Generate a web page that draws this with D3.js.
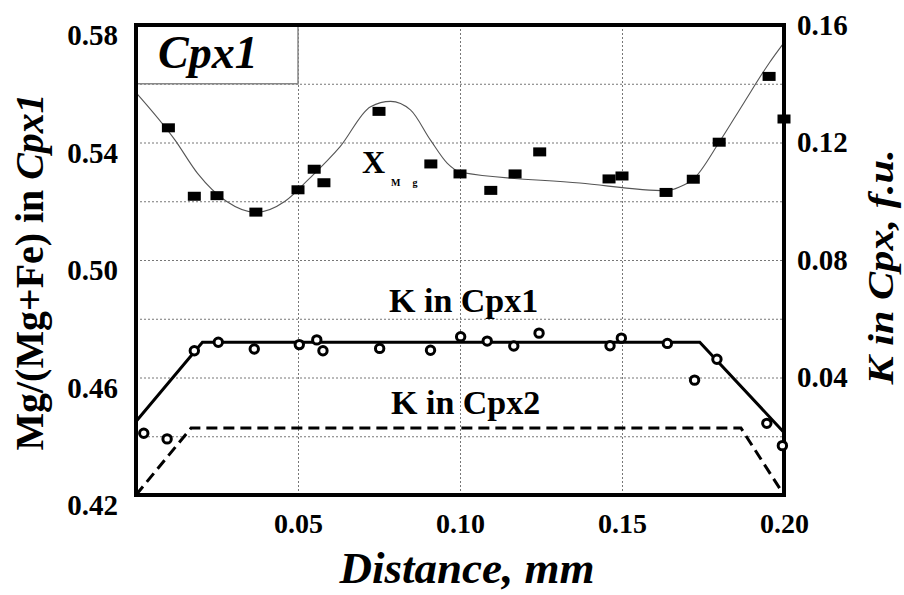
<!DOCTYPE html>
<html>
<head>
<meta charset="utf-8">
<script src="https://cdn.jsdelivr.net/npm/d3@7"></script>
<style>
  body { margin: 0; background: #fff; }
  .grid line { stroke: #777; stroke-width: 1; stroke-dasharray: 2,2; }
  .grid path { display: none; }
  .tickAxis path { display: none; }
</style>
</head>
<body>
<script>
// Mg# (filled squares, left axis)
var distMg = [0.010, 0.018, 0.025, 0.037, 0.050, 0.055, 0.058, 0.075, 0.091, 0.100,
              0.1095, 0.117, 0.1246, 0.146, 0.150, 0.1636, 0.172, 0.180, 0.1954, 0.200];
var xMg = [0.545, 0.5217, 0.5219, 0.5163, 0.5239, 0.5309, 0.5263, 0.5506, 0.5327, 0.5293,
           0.5237, 0.5293, 0.5368, 0.5276, 0.5286, 0.5230, 0.5275, 0.5401, 0.5625, 0.548];

// fitted curve through the Mg# profile
var curveDist = [0.0, 0.012, 0.019, 0.028, 0.037, 0.046, 0.053, 0.063, 0.0724, 0.0786, 0.0847,
                 0.0909, 0.0961, 0.1002, 0.137, 0.1638, 0.168, 0.172, 0.180, 0.1875, 0.1954, 0.200];
var curveMg = [0.557, 0.5409, 0.5295, 0.5199, 0.5162, 0.520, 0.5272, 0.5386, 0.5522, 0.554, 0.5511,
               0.5408, 0.5329, 0.5299, 0.5262, 0.5236, 0.525, 0.5275, 0.5401, 0.5533, 0.567, 0.574];

// K in Cpx (open circles, right axis)
var distK = [0.0024, 0.0096, 0.018, 0.0254, 0.0365, 0.0504, 0.0558, 0.0577, 0.0752, 0.0909, 0.1002,
             0.1084, 0.1166, 0.1244, 0.1463, 0.1498, 0.164, 0.1724, 0.1793, 0.1947, 0.1995];
var kCpx = [0.0210, 0.0191, 0.0491, 0.0520, 0.0497, 0.0512, 0.0528, 0.0491, 0.0499, 0.0493, 0.0539,
            0.0524, 0.0507, 0.0551, 0.0508, 0.0534, 0.0516, 0.0391, 0.0462, 0.0244, 0.0168];

// model profiles
var k1Dist = [0.0, 0.0205, 0.174, 0.200];
var k1 = [0.025, 0.052, 0.052, 0.0213];
var k2Dist = [0.0, 0.017, 0.1867, 0.200];
var k2 = [0.0, 0.0228, 0.0228, 0.0];

// ticks
var xTicks = [0.05, 0.10, 0.15, 0.20];
var yLeftTicks = [0.42, 0.46, 0.50, 0.54, 0.58];
var yRightTicks = [0.04, 0.08, 0.12, 0.16];
var xGrid = [0.05, 0.10, 0.15];
var yGrid = [0.44, 0.46, 0.48, 0.50, 0.52, 0.54, 0.56];

var serif = "'Liberation Serif', 'Times New Roman', Times, serif";

var margin = {top: 25, right: 120, bottom: 100, left: 136},
    width = 904 - margin.left - margin.right,
    height = 595 - margin.top - margin.bottom;

var svg = d3.select("body")
  .append("svg")
    .attr("width", 904)
    .attr("height", 595)
  .append("g")
    .attr("transform", "translate(" + margin.left + "," + margin.top + ")");

var x = d3.scaleLinear().domain([0, 0.20]).range([0, width]);
var yL = d3.scaleLinear().domain([0.42, 0.58]).range([height, 0]);
var yR = d3.scaleLinear().domain([0, 0.16]).range([height, 0]);

// small helper so every label gets the same serif bold look
function label(sel, size, italic) {
  return sel
    .attr("font-family", serif)
    .attr("font-weight", "bold")
    .attr("font-style", italic ? "italic" : "normal")
    .attr("font-size", size)
    .attr("fill", "#000");
}

// grid
svg.append("g")
  .attr("class", "grid")
  .call(d3.axisLeft(yL).tickValues(yGrid).tickSize(-width).tickFormat(""));
svg.append("g")
  .attr("class", "grid")
  .attr("transform", "translate(0," + height + ")")
  .call(d3.axisBottom(x).tickValues(xGrid).tickSize(-height).tickFormat(""));

// sample label box
svg.append("rect")
  .attr("x", 0)
  .attr("y", 0)
  .attr("width", x(0.05))
  .attr("height", yL(0.56))
  .attr("fill", "#fff")
  .attr("stroke", "#888")
  .attr("stroke-width", 1.5);
label(svg.append("text"), 46, true)
  .attr("x", 22)
  .attr("y", 43)
  .text("Cpx1");

// Mg# curve
svg.append("path")
  .datum(curveDist)
  .attr("fill", "none")
  .attr("stroke", "#555")
  .attr("stroke-width", 1.1)
  .attr("d", d3.line()
    .x(function(d) { return x(d); })
    .y(function(d, i) { return yL(curveMg[i]); })
    .curve(d3.curveMonotoneX));

// K model lines
svg.append("path")
  .datum(k1Dist)
  .attr("fill", "none")
  .attr("stroke", "#000")
  .attr("stroke-width", 3)
  .attr("d", d3.line()
    .x(function(d) { return x(d); })
    .y(function(d, i) { return yR(k1[i]); }));
svg.append("path")
  .datum(k2Dist)
  .attr("fill", "none")
  .attr("stroke", "#000")
  .attr("stroke-width", 3)
  .attr("stroke-dasharray", "11,6")
  .attr("d", d3.line()
    .x(function(d) { return x(d); })
    .y(function(d, i) { return yR(k2[i]); }));

// frame
svg.append("rect")
  .attr("x", 0)
  .attr("y", 0)
  .attr("width", width)
  .attr("height", height)
  .attr("fill", "none")
  .attr("stroke", "#000")
  .attr("stroke-width", 4);

// squares
svg.selectAll("rect.mg")
  .data(distMg)
  .enter()
  .append("rect")
    .attr("class", "mg")
    .attr("x", function(d) { return x(d) - 6.5; })
    .attr("y", function(d, i) { return yL(xMg[i]) - 4.5; })
    .attr("width", 13)
    .attr("height", 9)
    .attr("fill", "#000");

// circles
svg.selectAll("circle")
  .data(distK)
  .enter()
  .append("circle")
    .attr("cx", function(d) { return x(d); })
    .attr("cy", function(d, i) { return yR(kCpx[i]); })
    .attr("r", 4.2)
    .attr("fill", "#fff")
    .attr("stroke", "#000")
    .attr("stroke-width", 3);

// axes
var xAxis = svg.append("g")
  .attr("class", "tickAxis")
  .attr("transform", "translate(0," + height + ")")
  .call(d3.axisBottom(x).tickValues(xTicks).tickSize(0).tickPadding(18).tickFormat(d3.format(".2f")));
label(xAxis.selectAll("text"), 28, false);

var yAxisL = svg.append("g")
  .attr("class", "tickAxis")
  .call(d3.axisLeft(yL).tickValues(yLeftTicks).tickSize(0).tickPadding(18).tickFormat(d3.format(".2f")));
label(yAxisL.selectAll("text"), 29, false)
  .attr("dy", "0.68em");

var yAxisR = svg.append("g")
  .attr("class", "tickAxis")
  .attr("transform", "translate(" + width + ",0)")
  .call(d3.axisRight(yR).tickValues(yRightTicks).tickSize(0).tickPadding(13).tickFormat(d3.format(".2f")));
label(yAxisR.selectAll("text"), 29, false);

// series labels
label(svg.append("text"), 32, false)
  .attr("x", 226)
  .attr("y", 148)
  .text("X");
label(svg.append("text"), 10, false)
  .attr("x", 255)
  .attr("y", 161)
  .attr("letter-spacing", "12px")
  .text("Mg");

label(svg.append("text"), 34, false)
  .attr("x", 253)
  .attr("y", 287)
  .text("K in Cpx1");
label(svg.append("text"), 34, false)
  .attr("x", 255)
  .attr("y", 389)
  .text("K in Cpx2");

// axis titles
label(svg.append("text"), 45, true)
  .attr("text-anchor", "middle")
  .attr("x", 331)
  .attr("y", height + 88)
  .text("Distance, mm");

var yTitle = label(svg.append("text"), 40, false)
  .attr("text-anchor", "middle")
  .attr("transform", "translate(" + (43 - margin.left) + "," + 247 + ") rotate(-90)")
  .attr("textLength", 357)
  .attr("lengthAdjust", "spacingAndGlyphs");
yTitle.append("tspan").text("Mg/(Mg+Fe) in ");
yTitle.append("tspan").attr("font-style", "italic").text("Cpx1");

label(svg.append("text"), 36, true)
  .attr("text-anchor", "middle")
  .attr("transform", "translate(" + (893 - margin.left) + "," + 242 + ") rotate(-90)")
  .attr("textLength", 235)
  .attr("lengthAdjust", "spacingAndGlyphs")
  .text("K in Cpx, f.u.");
</script>
</body>
</html>
